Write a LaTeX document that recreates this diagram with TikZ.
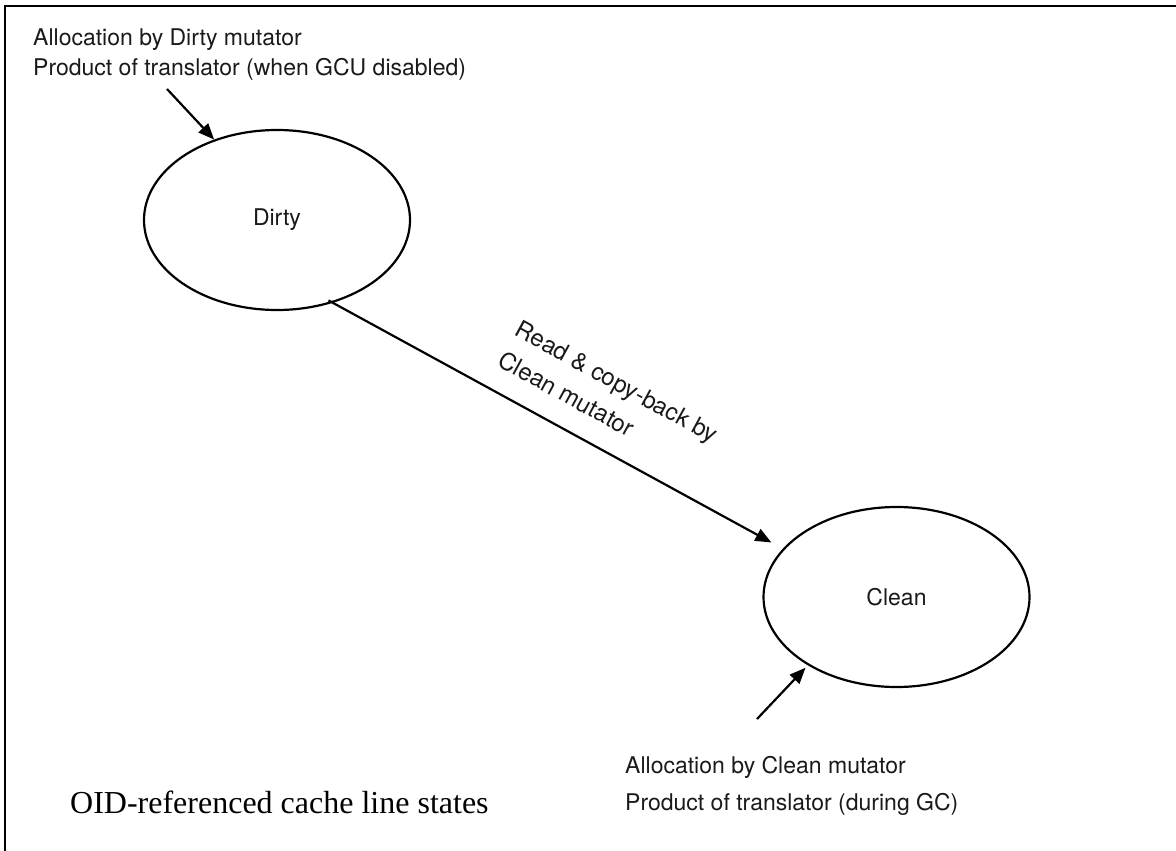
\documentclass[tikz,border=0pt]{standalone}
\usepackage{fontspec}
\usetikzlibrary{arrows.meta,shapes.geometric}
\newfontfamily\sansfam{TeX Gyre Heros}
\newfontfamily\seriffam{Liberation Serif}
\definecolor{ink}{HTML}{1A1A1A}
\tikzset{
  state/.style={draw=black, line width=2.2pt, ellipse, inner sep=0pt,
    minimum width=266pt, minimum height=180pt,
    text=ink, font=\sansfam\fontsize{23}{28}\selectfont},
  arr/.style={draw=black, line width=2.2pt,
    -{Triangle[length=16pt,width=13pt]}},
  note/.style={anchor=base west, inner sep=0pt, text=ink,
    font=\sansfam\fontsize{23}{28}\selectfont},
  caption/.style={anchor=base west, inner sep=0pt, text=black,
    font=\seriffam\fontsize{32}{38}\selectfont}
}
\begin{document}
\begin{tikzpicture}[x=1pt,y=-1pt]
  \useasboundingbox (0,0) rectangle (1176,851);
  \clip (0,0) rectangle (1176,851);
  % outer frame
  \draw[line width=2.4pt] (5,6) rectangle (1200,880);

  % states
  \node[state] (dirty) at (277,220) {Dirty};
  \node[state] (clean) at (896.5,597) {Clean};

  % entry notes
  \node[note] (dnote1) at (33,46) {Allocation by Dirty mutator};
  \node[note] (dnote2) at (33,76) {Product of translator (when GCU disabled)};
  \node[note] (cnote1) at (625,773) {Allocation by Clean mutator};
  \node[note] (cnote2) at (625,810) {Product of translator (during GC)};

  \coordinate (dsrc) at (167,89);
  \coordinate (csrc) at (757,719);

  % transitions
  \draw[arr] (dsrc) -- (dirty.128);
  \draw[arr] (csrc) -- ([shift={(-3,2)}]clean.218);
  \draw[arr, shorten <=-5pt, shorten >=13pt] (dirty.-56) -- (clean.157)
    node[pos=0.56, sloped, above=22pt, inner sep=0pt, align=left, text=ink,
         font=\sansfam\fontsize{24}{35}\selectfont] (tlabel)
    {Read \& copy-back by\\Clean mutator};

  % caption
  \node[caption] (title) at (70,813) {OID-referenced cache line states};
\end{tikzpicture}
\end{document}
